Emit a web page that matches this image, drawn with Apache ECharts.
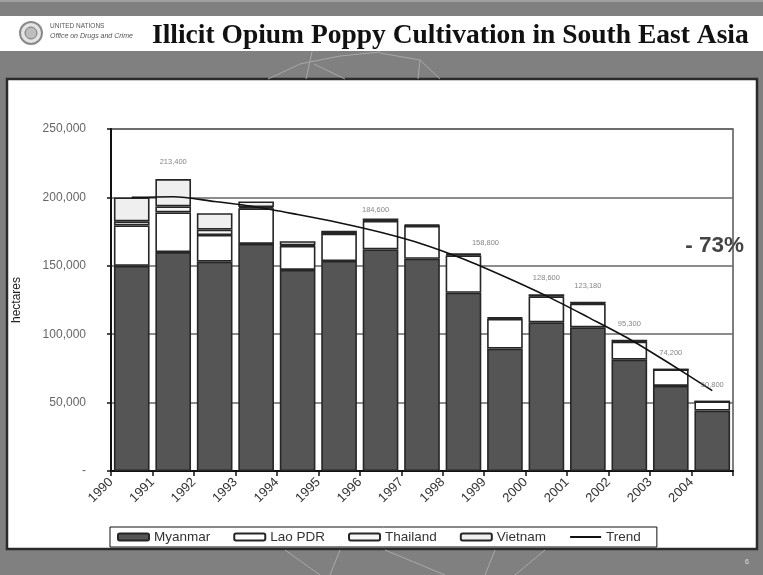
<!DOCTYPE html>
<html>
<head>
<meta charset="utf-8">
<style>
  html, body { margin: 0; padding: 0; background: #7f7f7f; }
  #chart { width: 763px; height: 575px; }
</style>
<script src="https://cdn.jsdelivr.net/npm/echarts@6/dist/echarts.min.js"></script>
</head>
<body>
<div id="chart"></div>
<script>
// Opium poppy cultivation (hectares) by country, South East Asia
const years = ['1990', '1991', '1992', '1993', '1994', '1995', '1996', '1997',
               '1998', '1999', '2000', '2001', '2002', '2003', '2004'];
const myanmar  = [150000, 160000, 153000, 166000, 147000, 153500, 162000, 155150,
                  130300, 89500, 108700, 105000, 81400, 62200, 44200];
const laoPDR   = [29500, 29000, 19500, 26000, 17500, 20000, 20800, 24000,
                  27300, 21600, 19000, 17300, 13200, 12000, 6600];
const thailand = [3000, 4400, 4000, 1000, 500, 200, 400, 350,
                  700, 700, 900, 820, 700, 0, 0];
const vietnam  = [17500, 20000, 12000, 4000, 3000, 2000, 1400, 500,
                  500, 400, 0, 60, 0, 0, 0];
const trend    = [200000, 200500, 197000, 193000, 187500, 181500, 174500, 166000,
                  155000, 142000, 128000, 112500, 96500, 78000, 58800];
// Years whose regional total is annotated above the bar
const labelledYears = ['1991', '1996', '1998', '2000', '2001', '2002', '2003', '2004'];
const yTicks = [0, 50000, 100000, 150000, 200000, 250000];
const reductionText = '- 73%';

// label nudges [dx, distance] for a couple of crowded annotations
const labelNudge = { '1996': [-5, 5], '1998': [22, 7] };

const FONT = '"Liberation Sans", Arial, sans-serif';
const fmt = v => v.toLocaleString('en-US');

const totals = years.map((_, i) => myanmar[i] + laoPDR[i] + thailand[i] + vietnam[i]);
const totalLabels = years.map((y, i) => {
  if (labelledYears.indexOf(y) < 0) return '-';
  const n = labelNudge[y] || [0, 13];
  return { value: totals[i], label: { offset: [n[0], 0], distance: n[1] } };
});

const barBorder = { borderColor: '#262626', borderWidth: 1.6 };
function stackBar(name, data, color) {
  return {
    name, type: 'bar', stack: 'total', data,
    barCategoryGap: '14%',
    itemStyle: Object.assign({ color }, barBorder),
    emphasis: { disabled: true }
  };
}

const chart = echarts.init(document.getElementById('chart'), null, { renderer: 'canvas' });

const arc = pts => ({ type: 'polyline', z: -98, shape: { points: pts },
                      style: { stroke: '#a8a8a8', lineWidth: 1, fill: null } });

const option = {
  animation: false,
  backgroundColor: 'transparent',
  textStyle: { fontFamily: FONT },
  graphic: [
    // page frame: grey bands, white header strip, white chart panel
    { type: 'rect', z: -100, shape: { x: 0, y: 0, width: 763, height: 575 }, style: { fill: '#808080' } },
    { type: 'rect', z: -99, shape: { x: 0, y: 0, width: 763, height: 2 }, style: { fill: '#a0a0a0' } },
    { type: 'rect', z: -99, shape: { x: 0, y: 16, width: 763, height: 35 }, style: { fill: '#ffffff' } },
    { type: 'rect', z: -99, shape: { x: 7, y: 79, width: 750, height: 470 },
      style: { fill: '#ffffff', stroke: '#2a2a2a', lineWidth: 2.5 } },
    // faint globe arcs on the grey bands
    arc([[268, 79], [300, 64], [340, 56], [380, 52]]),
    arc([[312, 52], [306, 79]]),
    arc([[314, 64], [345, 79]]),
    arc([[380, 53], [420, 60], [440, 79]]),
    arc([[420, 60], [418, 79]]),
    arc([[285, 550], [320, 575]]),
    arc([[340, 550], [330, 575]]),
    arc([[385, 550], [445, 575]]),
    arc([[495, 550], [485, 575]]),
    arc([[545, 550], [515, 575]]),
    // UNODC emblem
    { type: 'circle', z: -97, shape: { cx: 31, cy: 33, r: 11 },
      style: { fill: '#e4e4e4', stroke: '#8a8a8a', lineWidth: 2 } },
    { type: 'circle', z: -96, shape: { cx: 31, cy: 33, r: 6 },
      style: { fill: '#bdbdbd', stroke: '#777', lineWidth: 1 } },
    { type: 'text', z: -96, left: 50, top: 23,
      style: { text: 'UNITED NATIONS', fill: '#555', font: '6.5px ' + FONT } },
    { type: 'text', z: -96, left: 50, top: 33,
      style: { text: 'Office on Drugs and Crime', fill: '#555', font: 'italic 7px ' + FONT } },
    // title
    { type: 'text', z: -96, left: 152, top: 22,
      style: { text: 'Illicit Opium Poppy Cultivation in South East Asia', fill: '#111',
               font: 'bold 27.5px "Liberation Serif", "Times New Roman", serif' } },
    // headline reduction figure
    { type: 'text', right: 19, top: 234, z: 50,
      style: { text: reductionText, fill: '#444', font: 'bold 22.5px ' + FONT } },
    // slide number
    { type: 'text', left: 745, top: 559,
      style: { text: '6', fill: '#e0e0e0', font: '7px ' + FONT } }
  ],
  grid: {
    left: 111, right: 30, top: 129, bottom: 104,
    show: true, borderColor: '#555', borderWidth: 1.5, backgroundColor: 'transparent'
  },
  legend: {
    left: 110, top: 527,
    data: ['Myanmar', 'Lao PDR', 'Thailand', 'Vietnam',
           { name: 'Trend', itemStyle: { opacity: 0 } }],
    itemWidth: 31, itemHeight: 7, itemGap: 23,
    padding: [3, 16, 3, 7],
    borderColor: '#111', borderWidth: 1, backgroundColor: '#fff',
    textStyle: { fontSize: 13.5, color: '#333', fontFamily: FONT },
    selectedMode: false
  },
  xAxis: [
    {
      type: 'category', data: years, gridIndex: 0,
      axisLine: { lineStyle: { color: '#111', width: 2 } },
      axisTick: { show: true, length: 5, lineStyle: { color: '#111', width: 1.5 } },
      axisLabel: { show: false }
    },
    {
      // year labels sit on the tick marks between bars
      type: 'category', data: years.concat(['']), gridIndex: 0, boundaryGap: false,
      position: 'bottom',
      axisLine: { show: false }, axisTick: { show: false },
      axisLabel: { rotate: 45, fontSize: 13, color: '#333', margin: 9, interval: 0, fontFamily: FONT }
    }
  ],
  yAxis: {
    type: 'value', min: yTicks[0], max: yTicks[yTicks.length - 1], interval: yTicks[1] - yTicks[0],
    name: 'hectares', nameLocation: 'middle', nameGap: 88, nameRotate: 90,
    nameTextStyle: { fontSize: 12, color: '#222', fontFamily: FONT },
    axisLine: { show: true, lineStyle: { color: '#111', width: 2 } },
    axisTick: { show: true, length: 4, lineStyle: { color: '#111', width: 1.5 } },
    axisLabel: { fontSize: 12, color: '#666', margin: 25, fontFamily: FONT,
                 formatter: v => v === 0 ? '-' : fmt(v) },
    splitLine: { lineStyle: { color: '#666', width: 1.6 } }
  },
  series: [
    stackBar('Myanmar', myanmar, '#555555'),
    stackBar('Lao PDR', laoPDR, '#ffffff'),
    stackBar('Thailand', thailand, '#f6f6f6'),
    stackBar('Vietnam', vietnam, '#efefef'),
    {
      name: 'Trend', type: 'line', data: trend, smooth: 0.3,
      symbol: 'none', z: 5,
      lineStyle: { color: '#111', width: 1.6 },
      itemStyle: { color: '#111' },
      markLine: {
        silent: true, symbol: 'none', z: 1,
        label: { show: false },
        lineStyle: { color: '#666', width: 1.6, type: 'solid' },
        data: [[{ coord: ['1996', 175000] }, { coord: [14.5, 175000] }]]
      }
    },
    {
      name: 'totals', type: 'scatter', data: totalLabels, symbolSize: 0, z: 6,
      label: { show: true, position: 'top', fontSize: 7.5, color: '#666',
               formatter: p => fmt(p.value) }
    }
  ]
};

chart.setOption(option);
</script>
</body>
</html>
